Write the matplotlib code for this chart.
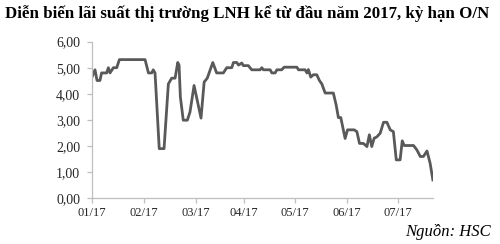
import matplotlib
matplotlib.use("Agg")
import matplotlib.pyplot as plt
from matplotlib.ticker import FuncFormatter

# dữ liệu (trục x: phiên giao dịch, y: lãi suất %)
sessions = [0.0, 1.25, 2.1, 3.3, 4.0, 6.1, 6.8, 7.5, 8.9, 10.3, 11.4, 22.1,
            23.5, 24.9, 25.5, 26.25, 28.0, 30.0, 31.8, 33.2, 34.6, 35.7, 36.25,
            36.8, 38.0, 39.7, 40.8, 42.5, 45.4, 46.7, 48.0, 50.3, 51.9, 54.7,
            56.1, 58.2, 58.9, 60.3, 61.0, 62.4, 63.0, 65.1, 66.5, 70.0, 70.7,
            71.4, 74.2, 74.9, 76.25, 77.0, 79.0, 80.0, 85.3, 86.0, 88.75, 89.5,
            90.1, 91.1, 92.2, 93.6, 94.7, 95.7, 97.1, 100.5, 101.7, 102.6, 103.6,
            105.4, 106.4, 109.2, 110.3, 111.4, 113.0, 114.5, 115.5, 116.5, 117.5,
            118.6, 120.0, 121.4, 122.8, 124.2, 125.5, 126.7, 128.3, 129.2, 130.0,
            133.9, 135.3, 136.7, 138.0, 139.5, 140.8, 141.95]
rates = [4.64, 4.92, 4.51, 4.51, 4.8, 4.8, 5.0, 4.8, 5.0, 5.0, 5.31, 5.31,
         4.8, 4.8, 4.92, 4.8, 1.9, 1.9, 4.38, 4.6, 4.6, 5.2, 5.1,
         3.88, 2.99, 2.99, 3.3, 4.32, 3.07, 4.45, 4.6, 5.2, 4.8, 4.8,
         5.0, 5.0, 5.2, 5.2, 5.1, 5.18, 5.08, 5.08, 4.92, 4.92, 5.0,
         4.92, 4.92, 4.8, 4.8, 4.92, 4.92, 5.02, 5.02, 4.92, 4.92, 4.8,
         4.93, 4.64, 4.73, 4.73, 4.51, 4.38, 4.03, 4.03, 3.56, 3.09, 3.09,
         2.29, 2.62, 2.62, 2.55, 2.1, 2.1, 1.98, 2.43, 1.98, 2.3,
         2.35, 2.49, 2.91, 2.91, 2.62, 2.55, 1.47, 1.47, 2.2, 2.02,
         2.02, 1.85, 1.6, 1.6, 1.81, 1.34, 0.7]

month_pos = [0, 21.7, 43.3, 63.3, 84.6, 106.3, 127.5]
month_labels = ["01/17", "02/17", "03/17", "04/17", "05/17", "06/17", "07/17"]
y_ticks = [0, 1, 2, 3, 4, 5, 6]

plt.rcParams['font.family'] = ['Liberation Serif', 'DejaVu Serif']

fig = plt.figure(figsize=(5, 2.44), dpi=100)
ax = fig.add_axes([0.184, 0.1875, 0.682, 0.642])

ax.plot(sessions, rates, color='#595959', lw=2.0, solid_joinstyle='round')

ax.set_xlim(0, 142)
ax.set_ylim(0, 6)
ax.set_xticks(month_pos)
ax.set_xticklabels(month_labels)
ax.set_yticks(y_ticks)
ax.yaxis.set_major_formatter(FuncFormatter(lambda v, p: f"{v:.2f}".replace('.', ',')))

for s in ['top', 'right']:
    ax.spines[s].set_visible(False)
for s in ['left', 'bottom']:
    ax.spines[s].set_color('#bfbfbf')
    ax.spines[s].set_linewidth(0.9)
ax.tick_params(axis='both', color='#bfbfbf', length=3.5, width=0.9, direction='out')
ax.tick_params(axis='y', labelsize=10, labelcolor='#262626', pad=5)
ax.tick_params(axis='x', labelsize=9, labelcolor='#262626', pad=3)

fig.text(0.01, 0.945, "Diễn biến lãi suất thị trường LNH kể từ đầu năm 2017, kỳ hạn O/N",
         fontsize=12.2, fontweight='bold', ha='left', va='center')
fig.text(0.982, 0.05, "Nguồn: HSC", fontsize=12, fontstyle='italic',
         ha='right', va='center')

fig.savefig('out.png', dpi=100)
